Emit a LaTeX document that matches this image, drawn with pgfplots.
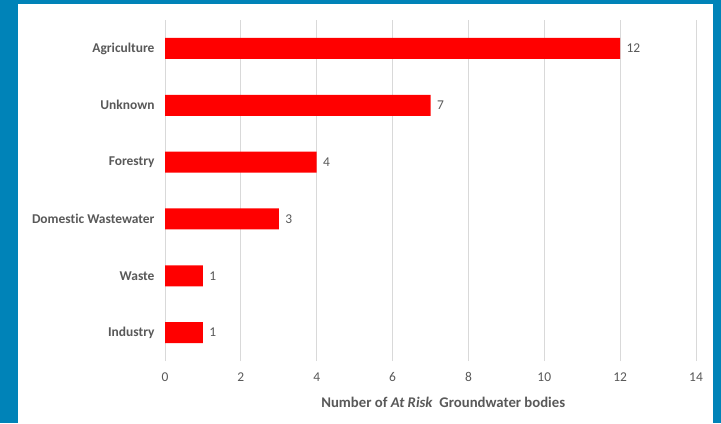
\documentclass[border=0pt]{standalone}
\usepackage{pgfplots}
\pgfplotsset{compat=1.18}
\usepackage{fontspec}
\setmainfont{Carlito}[Ligatures=NoCommon]
\definecolor{frameblue}{HTML}{0083B8}
\definecolor{txt}{HTML}{595959}
\definecolor{gridc}{HTML}{D9D9D9}
\begin{document}
\begin{tikzpicture}[x=1bp,y=1bp]
\fill[frameblue] (0,0) rectangle (721,423);
\fill[white] (18,0) rectangle (713,419);
\useasboundingbox (0,0) rectangle (721,423);
\begin{axis}[
  at={(165bp,62bp)}, anchor=south west,
  scale only axis, width=531bp, height=341bp,
  xbar, bar width=21bp,
  xmin=0, xmax=14, ymin=-0.5, ymax=5.5,
  xtick={0,2,...,14},
  ytick={0,1,2,3,4,5},
  yticklabels={Industry,Waste,Domestic Wastewater,Forestry,Unknown,Agriculture},
  axis line style={draw=none},
  major tick length=0pt,
  xmajorgrids, grid style={gridc, line width=0.75bp},
  /pgf/number format/assume math mode=true,
  xticklabel style={font=\fontsize{13.5}{15}\selectfont, text=txt, yshift=-8bp},
  yticklabel style={font=\bfseries\fontsize{13.5}{15}\selectfont, text=txt, xshift=-7bp},
  xlabel={Number of \textit{At Risk}\ \ Groundwater bodies},
  xlabel style={font=\bfseries\fontsize{14.8}{16}\selectfont, text=txt, at={(axis description cs:0.524,0)}, anchor=center, yshift=-41bp},
  nodes near coords,
  nodes near coords style={font=\fontsize{13.5}{15}\selectfont, text=txt, anchor=west, xshift=3bp},
]
\addplot[fill=red, draw=none] coordinates {(1,0) (1,1) (3,2) (4,3) (7,4) (12,5)};
\end{axis}
\end{tikzpicture}
\end{document}
